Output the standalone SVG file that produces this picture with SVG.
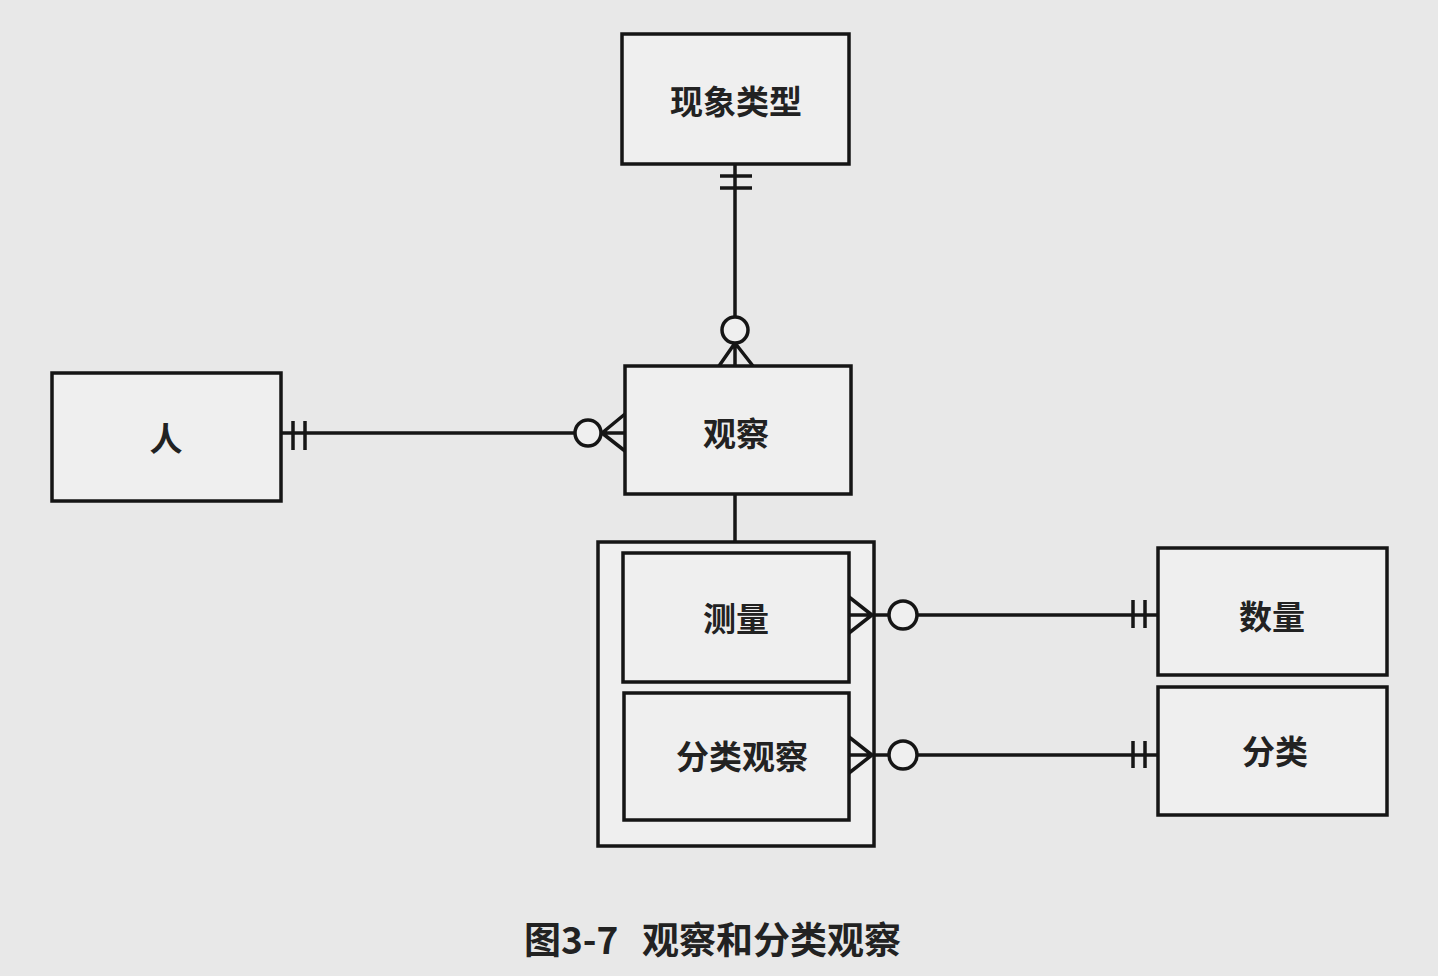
<svg xmlns="http://www.w3.org/2000/svg" width="1438" height="976" viewBox="0 0 1438 976">
<defs>
<style>
.box{fill:#efefef;stroke:#151515;stroke-width:3.5}
.ln{fill:none;stroke:#151515;stroke-width:3.5}
.ci{fill:#efefef;stroke:#151515;stroke-width:3.5}
.t{font-family:"Noto Sans CJK SC","Noto Sans",sans-serif;font-weight:700;font-size:33px;fill:#222;text-anchor:middle;dominant-baseline:central}
.cap{font-family:"Noto Sans CJK SC","Noto Sans",sans-serif;font-weight:700;font-size:37px;fill:#222}
</style>
</defs>
<rect x="0" y="0" width="1438" height="976" fill="#e8e8e8"/>
<g id="node-xianxiangleixing">
<rect class="box" x="622" y="34" width="227" height="130"/>
<text class="t" x="736" y="100">现象类型</text>
</g>
<g id="node-guancha">
<rect class="box" x="625" y="366" width="226" height="128"/>
<text class="t" x="736" y="432">观察</text>
</g>
<g id="node-ren">
<rect class="box" x="52" y="373" width="229" height="128"/>
<text class="t" x="166" y="437">人</text>
</g>
<g id="node-subtypes">
<rect class="box" x="598" y="542" width="276" height="304"/>
</g>
<g id="node-celiang">
<rect class="box" x="623" y="553" width="226" height="129"/>
<text class="t" x="736" y="617">测量</text>
</g>
<g id="node-fenleiguancha">
<rect class="box" x="624" y="693" width="225" height="127"/>
<text class="t" x="742" y="755">分类观察</text>
</g>
<g id="node-shuliang">
<rect class="box" x="1158" y="548" width="229" height="127"/>
<text class="t" x="1272" y="615">数量</text>
</g>
<g id="node-fenlei">
<rect class="box" x="1158" y="687" width="229" height="128"/>
<text class="t" x="1275" y="750">分类</text>
</g>
<g id="connectors">
<path class="ln" d="M735 164 V317 M720 176 H752 M720 188 H752 M735 343 L719 366 M735 343 V366 M735 343 L753 366"/>
<circle class="ci" cx="735" cy="330" r="13"/>
<path class="ln" d="M281 433 H574 M293 421 V450 M305 421 V450 M602 433 L625 414 M602 433 H625 M602 433 L625 451"/>
<circle class="ci" cx="588" cy="433" r="13"/>
<path class="ln" d="M735 494 V542"/>
<path class="ln" d="M874 615 H889 M917 615 H1158 M1133 600 V628 M1145 600 V628 M849 597 L872 615 L849 633 M849 615 H872"/>
<circle class="ci" cx="903" cy="615" r="14"/>
<path class="ln" d="M874 755 H889 M917 755 H1158 M1133 741 V768 M1145 741 V768 M849 737 L872 755 L849 773 M849 755 H872"/>
<circle class="ci" cx="903" cy="755" r="14"/>
</g>
<text class="cap" x="524" y="954">图3-7</text>
<text class="cap" x="642" y="954">观察和分类观察</text>
</svg>
